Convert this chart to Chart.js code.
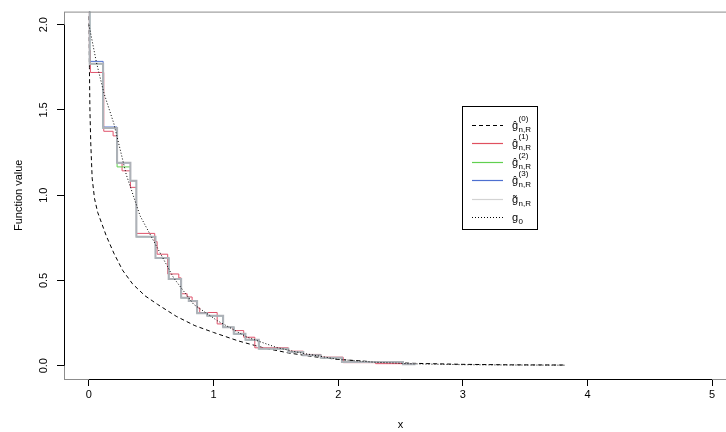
<!DOCTYPE html>
<html>
<head>
<meta charset="utf-8">
<script src="https://cdn.jsdelivr.net/npm/chart.js@4"></script>
<style>
  html, body { margin: 0; padding: 0; background: #fff; overflow: hidden; }
  #wrap { width: 760px; height: 432px; }
</style>
</head>
<body>
<div id="wrap"><canvas id="main" width="760" height="432"></canvas></div>
<script>
// axis ticks
const xTicks = [0, 1, 2, 3, 4, 5];
const xTickLabels = ["0", "1", "2", "3", "4", "5"];
const yTicks = [0, 0.5, 1, 1.5, 2];
const yTickLabels = ["0.0", "0.5", "1.0", "1.5", "2.0"];

// g0 (dotted)
const g0X = [0, 0.06, 0.12, 0.2, 0.3, 0.41, 0.55, 0.68, 0.84, 1.03, 1.27, 1.51, 1.7, 2.0, 2.3, 2.6, 3.0, 3.4, 3.82];
const g0Y = [2.0, 1.78, 1.6, 1.42, 1.12, 0.88, 0.69, 0.515, 0.36, 0.264, 0.167, 0.106, 0.075, 0.037, 0.02, 0.011, 0.006, 0.004, 0.003];

// g^(0) (dashed)
const dashX = [0.001, 0.004, 0.008, 0.015, 0.026, 0.045, 0.07, 0.1, 0.14, 0.2, 0.27, 0.35, 0.45, 0.55, 0.7, 0.85, 1.0, 1.2, 1.4, 1.6, 1.8, 2.0, 2.3, 2.6, 3.0, 3.4, 3.82];
const dashY = [2.05, 1.75, 1.5, 1.3, 1.1, 0.98, 0.9, 0.84, 0.76, 0.66, 0.56, 0.48, 0.41, 0.36, 0.29, 0.235, 0.195, 0.145, 0.105, 0.075, 0.053, 0.037, 0.022, 0.014, 0.008, 0.005, 0.004];

// g^(1) (red steps)
const redX = [0, 0.004, 0.012, 0.119, 0.194, 0.226, 0.266, 0.333, 0.381, 0.528, 0.547, 0.632, 0.721, 0.740, 0.788, 0.828, 0.863, 0.889, 1.029, 1.077, 1.157, 1.242, 1.331, 1.6, 1.72, 1.86, 2.04, 2.3, 2.62];
const redY = [2.2, 1.85, 1.72, 1.375, 1.348, 1.19, 1.143, 1.046, 0.776, 0.728, 0.654, 0.538, 0.515, 0.422, 0.403, 0.376, 0.339, 0.312, 0.245, 0.225, 0.206, 0.167, 0.105, 0.085, 0.066, 0.05, 0.018, 0.012, 0.012];

// step positions shared by g^(2), g^(3) and g~
const stepX = [0, 0.006, 0.114, 0.226, 0.333, 0.381, 0.534, 0.640, 0.740, 0.801, 0.868, 0.949, 1.077, 1.162, 1.256, 1.363, 1.6, 1.72, 1.86, 2.03, 2.52, 2.62];
const greenY = [2.2, 1.771, 1.394, 1.166, 1.085, 0.757, 0.631, 0.509, 0.399, 0.380, 0.308, 0.293, 0.225, 0.187, 0.152, 0.100, 0.08, 0.061, 0.047, 0.022, 0.009, 0.009];
const blueY = [2.2, 1.785, 1.40, 1.19, 1.085, 0.757, 0.631, 0.509, 0.399, 0.380, 0.308, 0.293, 0.225, 0.187, 0.152, 0.100, 0.08, 0.061, 0.047, 0.022, 0.009, 0.009];
const greyY = [2.2, 1.771, 1.394, 1.19, 1.085, 0.757, 0.631, 0.509, 0.399, 0.380, 0.308, 0.293, 0.225, 0.187, 0.152, 0.100, 0.08, 0.061, 0.047, 0.022, 0.009, 0.009];

// legend
const legendSup = ["(0)", "(1)", "(2)", "(3)", "", ""];
const legendSub = ["n,R", "n,R", "n,R", "n,R", "n,R", "0"];
const legendBase = ["\u011D", "\u011D", "\u011D", "\u011D", "g\u0303", "g"];
const legendColors = ["#000000", "#e0505f", "#61d04f", "#4d6fd0", "#d3d3d3", "#000000"];
const legendDash = [[4, 3], [], [], [], [], [1, 2]];

const FONT = "'Liberation Sans', Arial, sans-serif";

function pts(xs, ys) {
  return xs.map((x, i) => ({ x: x, y: ys[i] }));
}

const frame = {
  id: "frame",
  afterDatasetsDraw(chart) {
    const { ctx, chartArea: a, scales: { x, y } } = chart;
    ctx.save();
    // grey box round the plot region
    ctx.strokeStyle = "#8c8c8c";
    ctx.lineWidth = 1;
    ctx.strokeRect(a.left + 0.5, a.top + 0.5, a.right - a.left, a.bottom - a.top);
    // black axis lines, first to last tick
    ctx.strokeStyle = "#000";
    ctx.beginPath();
    ctx.moveTo(x.getPixelForValue(xTicks[0]), a.bottom + 0.5);
    ctx.lineTo(x.getPixelForValue(xTicks[xTicks.length - 1]), a.bottom + 0.5);
    ctx.moveTo(a.left + 0.5, y.getPixelForValue(yTicks[0]));
    ctx.lineTo(a.left + 0.5, y.getPixelForValue(yTicks[yTicks.length - 1]));
    ctx.stroke();

    // legend
    const bx = 462.5, by = 106.5, bw = 75, bh = 123;
    ctx.fillStyle = "#fff";
    ctx.fillRect(bx, by, bw, bh);
    ctx.strokeStyle = "#000";
    ctx.strokeRect(bx, by, bw, bh);
    for (let i = 0; i < legendBase.length; i++) {
      const ly = Math.round(125 + i * 18.4) + 0.5;
      ctx.strokeStyle = legendColors[i];
      ctx.lineWidth = 1.2;
      ctx.setLineDash(legendDash[i]);
      ctx.beginPath();
      ctx.moveTo(472, ly);
      ctx.lineTo(503, ly);
      ctx.stroke();
      ctx.setLineDash([]);
      ctx.fillStyle = "#000";
      ctx.textAlign = "left";
      ctx.textBaseline = "alphabetic";
      ctx.font = "11px " + FONT;
      ctx.fillText(legendBase[i], 512, ly + 3);
      const gw = ctx.measureText("g").width;
      ctx.font = "8px " + FONT;
      ctx.fillText(legendSub[i], 512 + gw + 0.5, ly + 6);
      if (legendSup[i]) ctx.fillText(legendSup[i], 512 + gw + 0.5, ly - 5);
    }
    ctx.restore();
  }
};

const ctx = document.getElementById("main").getContext("2d");
const myChart = new Chart(ctx, {
  type: "line",
  data: {
    datasets: [
      { label: "g0", data: pts(g0X, g0Y), borderColor: "#000", borderWidth: 1, borderDash: [1, 2] },
      { label: "g tilde", data: pts(stepX, greyY), borderColor: "#aeb2b8", borderWidth: 2, stepped: "before" },
      { label: "g hat 3", data: pts(stepX, blueY), borderColor: "#4d6fd0", borderWidth: 1, stepped: "before" },
      { label: "g hat 2", data: pts(stepX, greenY), borderColor: "#61d04f", borderWidth: 1, stepped: "before" },
      { label: "g hat 1", data: pts(redX, redY), borderColor: "#df536b", borderWidth: 1, stepped: "before" },
      { label: "g hat 0", data: pts(dashX, dashY), borderColor: "#000", borderWidth: 1, borderDash: [4, 3] },
    ],
  },
  options: {
    responsive: false,
    animation: false,
    devicePixelRatio: 1,
    elements: { point: { radius: 0 }, line: { tension: 0, fill: false } },
    layout: { padding: { left: 0, right: 23, top: 7, bottom: 0 } },
    plugins: { legend: { display: false }, tooltip: { enabled: false } },
    scales: {
      x: {
        type: "linear",
        min: -0.2,
        max: 5.2,
        afterBuildTicks: (s) => { s.ticks = xTicks.map((v) => ({ value: v })); },
        afterFit: (s) => { s.height = 53; },
        grid: { drawOnChartArea: false, tickLength: 7, color: "#000" },
        border: { display: false },
        ticks: {
          color: "#000",
          font: { family: FONT, size: 11 },
          padding: 2,
          maxRotation: 0,
          callback: (v, i) => xTickLabels[i],
        },
        title: { display: true, text: "x", color: "#000", font: { family: FONT, size: 11 }, padding: { top: 0, bottom: 0 } },
      },
      y: {
        type: "linear",
        min: -0.078,
        max: 2.077,
        afterBuildTicks: (s) => { s.ticks = yTicks.map((v) => ({ value: v })); },
        afterFit: (s) => { s.width = 64; },
        grid: { drawOnChartArea: false, tickLength: 7, color: "#000" },
        border: { display: false },
        ticks: {
          color: "#000",
          font: { family: FONT, size: 11 },
          minRotation: 90,
          maxRotation: 90,
          crossAlign: "center",
          padding: 5,
          callback: (v, i) => yTickLabels[i],
        },
        title: { display: true, text: "Function value", color: "#000", font: { family: FONT, size: 11 }, padding: { top: 12, bottom: 0 } },
      },
    },
  },
  plugins: [frame],
});
</script>
</body>
</html>
